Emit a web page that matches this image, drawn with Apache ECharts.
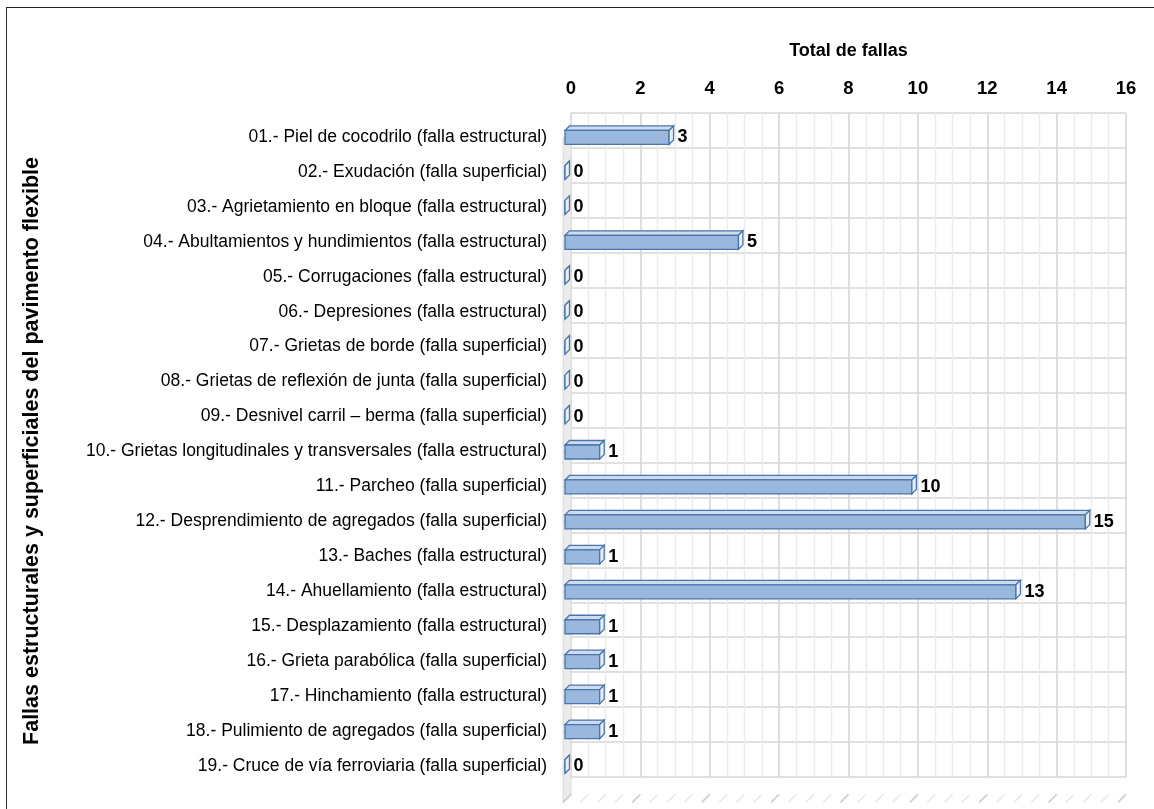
<!DOCTYPE html>
<html>
<head>
<meta charset="utf-8">
<script src="https://cdn.jsdelivr.net/npm/echarts/dist/echarts.min.js"></script>
<style>
  html, body { margin: 0; padding: 0; background: #fff; }
  #frame { position: absolute; left: 6px; top: 7px; width: 1148px; height: 802px;
           border-left: 1.5px solid #333; border-top: 1.5px solid #222; box-sizing: border-box; }
  #chart { position: absolute; left: 0; top: 0; width: 1154px; height: 809px; }
</style>
</head>
<body>
<div id="frame"></div>
<div id="chart"></div>
<script>
// Failure types recorded on the flexible pavement survey
const categories = [
  '01.- Piel de cocodrilo (falla estructural)',
  '02.- Exudación (falla superficial)',
  '03.- Agrietamiento en bloque (falla estructural)',
  '04.- Abultamientos y hundimientos (falla estructural)',
  '05.- Corrugaciones (falla estructural)',
  '06.- Depresiones (falla estructural)',
  '07.- Grietas de borde (falla superficial)',
  '08.- Grietas de reflexión de junta (falla superficial)',
  '09.- Desnivel carril – berma (falla superficial)',
  '10.- Grietas longitudinales y transversales (falla estructural)',
  '11.- Parcheo (falla superficial)',
  '12.- Desprendimiento de agregados (falla superficial)',
  '13.- Baches (falla estructural)',
  '14.- Ahuellamiento (falla estructural)',
  '15.- Desplazamiento (falla estructural)',
  '16.- Grieta parabólica (falla superficial)',
  '17.- Hinchamiento (falla estructural)',
  '18.- Pulimiento de agregados (falla superficial)',
  '19.- Cruce de vía ferroviaria (falla superficial)'
];
const totals = [3, 0, 0, 5, 0, 0, 0, 0, 0, 1, 10, 15, 1, 13, 1, 1, 1, 1, 0];
const axisMin = 0;
const axisMax = 16;
const axisStep = 2;

const NARROW = '"Liberation Sans Narrow", "Arial Narrow", "Liberation Sans", Arial, sans-serif';
const SANS = '"Liberation Sans", Arial, sans-serif';

// 3D look: bar front sits ahead of the back wall, with a small extruded depth
const SHIFT_X = -6, DEPTH = 4.5, FACE_H = 14;

function renderBar(params, api) {
  const v = api.value(0), idx = api.value(1);
  const p0 = api.coord([0, idx]);
  const p1 = api.coord([v, idx]);
  const l = p0[0] + SHIFT_X, r = p1[0] + SHIFT_X;
  const t = p0[1], b = t + FACE_H;
  const stroke = '#4a74aa';
  return {
    type: 'group',
    children: [
      { type: 'polygon', shape: { points: [[l, t], [l + DEPTH, t - DEPTH], [r + DEPTH, t - DEPTH], [r, t]] },
        style: { fill: '#cfdcef', stroke: stroke, lineWidth: 1.3 } },
      { type: 'rect', shape: { x: l, y: t, width: r - l, height: b - t },
        style: { fill: '#9ab8de', stroke: stroke, lineWidth: 1.3 } },
      { type: 'polygon', shape: { points: [[r, t], [r + DEPTH, t - DEPTH], [r + DEPTH, b - DEPTH], [r, b]] },
        style: { fill: '#e8eff8', stroke: stroke, lineWidth: 1.3 } },
      { type: 'text', x: r + DEPTH + 4, y: (t + b) / 2,
        style: { text: String(v), font: 'bold 18px ' + NARROW, fill: '#000',
                 textAlign: 'left', textVerticalAlign: 'middle' } }
    ]
  };
}

const chart = echarts.init(document.getElementById('chart'), null, { renderer: 'canvas' });
chart.setOption({
  animation: false,
  backgroundColor: 'transparent',
  grid: { left: 571, right: 28, top: 113, bottom: 32, containLabel: false },
  xAxis: {
    type: 'value', position: 'top', min: axisMin, max: axisMax, interval: axisStep,
    name: 'Total de fallas', nameLocation: 'middle', nameGap: 53,
    nameTextStyle: { fontFamily: NARROW, fontWeight: 'bold', fontSize: 18, color: '#000' },
    axisLine: { show: false }, axisTick: { show: false },
    axisLabel: { fontFamily: NARROW, fontWeight: 'bold', fontSize: 18.5, color: '#000', margin: 15 },
    splitLine: { show: true, lineStyle: { color: '#d6d6d6', width: 1.6 } },
    minorTick: { show: false, splitNumber: 4 },
    minorSplitLine: { show: true, lineStyle: { color: '#ebebeb', width: 1.4 } }
  },
  yAxis: {
    type: 'category', inverse: true, data: categories,
    name: 'Fallas estructurales y superficiales del pavimento flexible',
    nameLocation: 'middle', nameGap: 528, nameRotate: 90,
    nameTextStyle: { fontFamily: SANS, fontWeight: 'bold', fontSize: 21.5, color: '#000',
                     padding: [0, 12, 0, 0] },
    axisLine: { show: false }, axisTick: { show: false },
    axisLabel: { fontFamily: NARROW, fontSize: 17.5, color: '#000', margin: 24,
                 verticalAlign: 'top', lineHeight: 13 },
    splitLine: { show: true, lineStyle: { color: '#d6d6d6', width: 1.6 } }
  },
  series: [{
    type: 'custom',
    renderItem: renderBar,
    encode: { x: 0, y: 1 },
    clip: false,
    z: 10,
    data: totals.map((v, i) => [v, i])
  }]
});

// Side wall and floor of the 3D plot box, placed from the axis scales
function drawBox() {
  const bottom = categories.length - 0.5;
  const top = -0.5;
  const W = 8;
  const g = [];
  const [xw, yt] = chart.convertToPixel({ gridIndex: 0 }, [0, top]);
  const yb = chart.convertToPixel({ gridIndex: 0 }, [0, bottom])[1];
  g.push({ type: 'polygon', z: 1, silent: true,
    shape: { points: [[xw, yt], [xw, yb], [xw - W, yb + W], [xw - W, yt + W]] },
    style: { fill: '#ebebeb', stroke: '#dcdcdc', lineWidth: 1 } });
  for (let i = 0; i <= categories.length; i++) {
    const y = chart.convertToPixel({ gridIndex: 0 }, [0, i - 0.5])[1];
    g.push({ type: 'line', z: 2, silent: true,
      shape: { x1: xw, y1: y, x2: xw - W, y2: y + W },
      style: { stroke: '#d3d3d3', lineWidth: 1.4 } });
  }
  for (let k = 0; k <= (axisMax - axisMin) * 2; k++) {
    const val = axisMin + k / 2;
    const x = chart.convertToPixel({ gridIndex: 0 }, [val, bottom])[0];
    const major = k % 4 === 0;
    g.push({ type: 'line', z: 2, silent: true,
      shape: { x1: x, y1: yb, x2: x - W, y2: yb + W },
      style: { stroke: major ? '#cfcfcf' : '#e6e6e6', lineWidth: major ? 1.8 : 1.4 } });
  }
  chart.setOption({ graphic: g });
}
drawBox();
</script>
</body>
</html>
